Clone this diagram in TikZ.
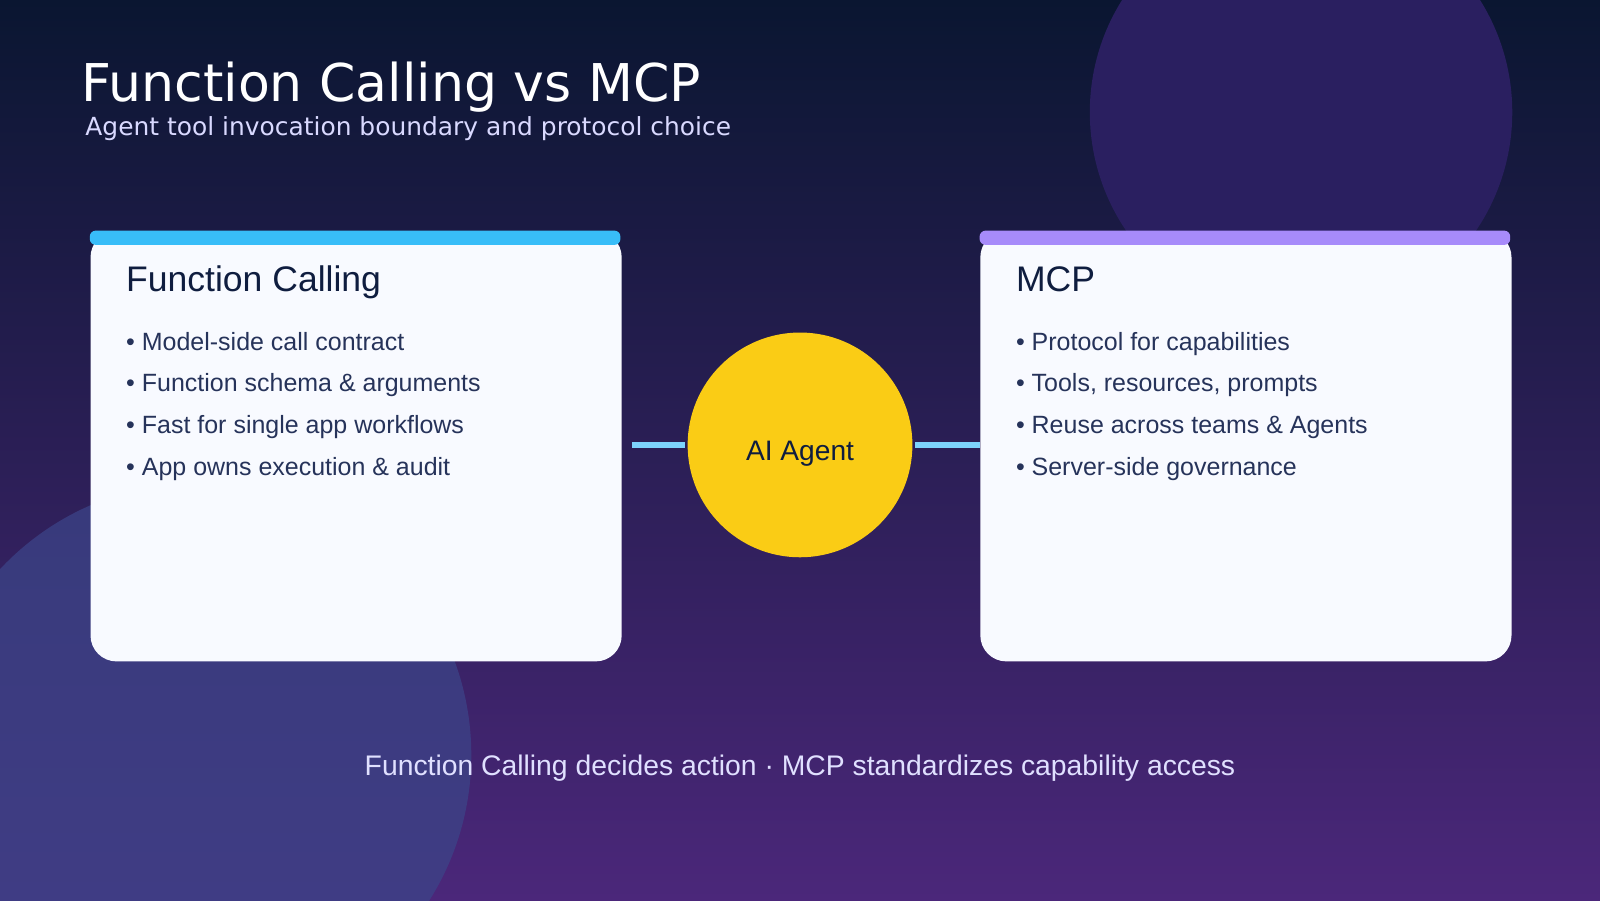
\documentclass[tikz,border=0pt]{standalone}
\usepackage{fontspec}
\setmainfont{Liberation Sans}
\newfontfamily\titlefont{DejaVu Sans}
\usetikzlibrary{positioning}
\definecolor{bgtop}{HTML}{0A1631}
\definecolor{bgbot}{HTML}{4B277A}
\definecolor{blobtr}{HTML}{2A1F60}
\definecolor{blobbl}{HTML}{3C4488}
\definecolor{cardbg}{HTML}{F8FAFF}
\definecolor{barblue}{HTML}{38BDF8}
\definecolor{barpurple}{HTML}{A78BFA}
\definecolor{agentfill}{HTML}{FACC15}
\definecolor{linkcol}{HTML}{7DD3FC}
\definecolor{headtxt}{HTML}{0F1D3F}
\definecolor{itemtxt}{HTML}{26335A}
\tikzset{
  card/.style={draw=none, fill=cardbg, rounded corners=0.26cm,
    minimum width=5.306cm, minimum height=4.296cm, inner sep=0pt},
  bar/.style={fill=#1, rounded corners=0.06cm},
  cardhead/.style={anchor=base west, inner sep=0pt, text=headtxt, font=\fontsize{10.1}{12}\selectfont},
  item/.style={anchor=base west, inner sep=0pt, text=itemtxt, font=\fontsize{7.1}{8}\selectfont},
  link/.style={draw=linkcol, line width=1.8pt},
}
\begin{document}
\begin{tikzpicture}[x=0.0102cm, y=-0.0102cm]
  \useasboundingbox (0,0) rectangle (1568,882);
  \shade[top color=bgtop, bottom color=bgbot] (0,0) rectangle (1568,882);
  \begin{scope}
    \clip (0,0) rectangle (1568,882);
    \fill[blobtr] (1275,110) circle[radius=2.11cm];
    \fill[blobbl, opacity=0.75] (195,740) circle[radius=2.72cm];
  \end{scope}
  % title
  \node[anchor=base west, inner sep=0pt, text=white, font=\titlefont\fontsize{14.8}{16}\selectfont]
    (title) at (79,99) {Function Calling vs MCP};
  \node[anchor=base west, inner sep=0pt, text=white!85!blue, font=\titlefont\fontsize{7.08}{8}\selectfont]
    (subtitle) at (83,133) {Agent tool invocation boundary and protocol choice};
  % cards
  \node[card, anchor=north west] (fc) at (88,226) {};
  \node[card, anchor=north west] (mcp) at (960,226) {};
  \fill[bar=barblue] (88,226) rectangle (608,240);
  \fill[bar=barpurple] (960,226) rectangle (1480,240);
  \node[cardhead] (fchead) at (123,286) {Function Calling};
  \node[cardhead] (mcphead) at (995,286) {MCP};
  \foreach \t [count=\i] in {Model-side call contract, Function schema \& arguments,
      Fast for single app workflows, App owns execution \& audit}
    \node[item] (fc\i) at (123,343+41*\i-41) {• \t};
  \foreach \t [count=\i] in {Protocol for capabilities, {Tools, resources, prompts},
      Reuse across teams \& Agents, Server-side governance}
    \node[item] (mcp\i) at (995,343+41*\i-41) {• \t};
  % agent
  \node[circle, fill=agentfill, minimum size=2.245cm, inner sep=0pt] (agent) at (784,436) {};
  \node[anchor=base, inner sep=0pt, text=headtxt, font=\fontsize{8}{9}\selectfont]
    (agentlabel) at (784,451) {AI Agent};
  \draw[link, shorten <=0.1cm, shorten >=0.02cm] (fc.east |- agent) -- (agent.west);
  \draw[link, shorten <=0.02cm] (agent.east) -- (mcp.west |- agent);
  % footer
  \node[text=white!88!blue, font=\fontsize{8.05}{9}\selectfont]
    (footer) at (784,753) {Function Calling decides action · MCP standardizes capability access};
\end{tikzpicture}
\end{document}
